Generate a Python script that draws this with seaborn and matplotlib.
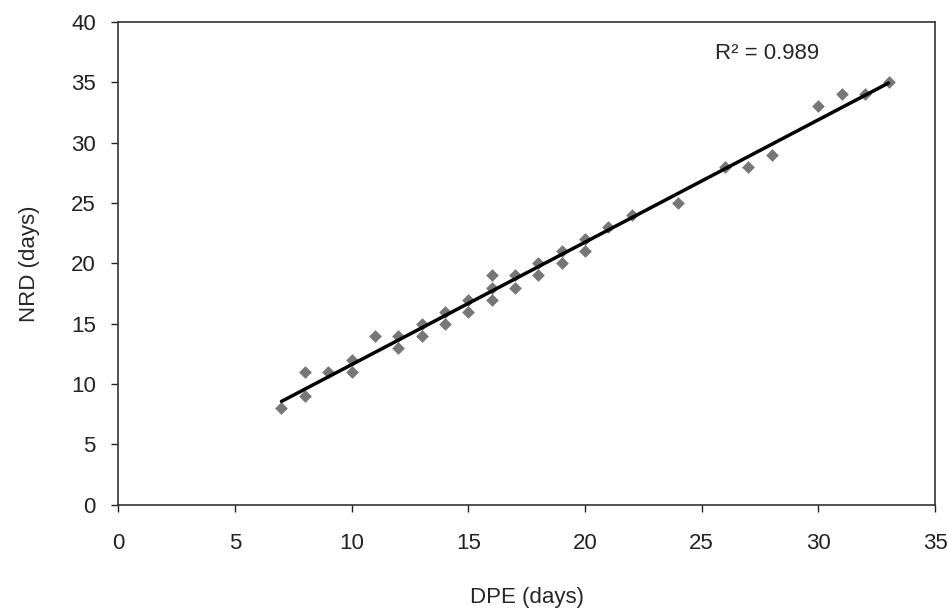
import matplotlib
matplotlib.use("Agg")
import matplotlib.pyplot as plt
import seaborn as sns
import pandas as pd

# days post emergence vs. number of rainy days
dpe = [7, 8, 8, 9, 10, 10, 11, 12, 12, 13, 13, 14, 14, 15, 15, 16, 16, 16,
       17, 17, 18, 18, 19, 19, 20, 20, 21, 22, 24, 26, 27, 28, 30, 31, 32, 33]
nrd = [8, 9, 11, 11, 11, 12, 14, 13, 14, 14, 15, 15, 16, 16, 17, 17, 18, 19,
       18, 19, 19, 20, 20, 21, 21, 22, 23, 24, 25, 28, 28, 29, 33, 34, 34, 35]
r2_label = "R² = 0.989"

df = pd.DataFrame({"DPE": dpe, "NRD": nrd})

sns.set_style("ticks")
plt.rcParams["font.family"] = ["Liberation Sans", "DejaVu Sans"]

fig = plt.figure(figsize=(9.48, 6.09), dpi=100)
ax = fig.add_axes([0.1245, 0.171, 0.862, 0.793])

sns.regplot(data=df, x="DPE", y="NRD", ax=ax, ci=None, marker="D",
            scatter_kws={"color": "#555555", "s": 42, "linewidths": 0},
            line_kws={"color": "black", "linewidth": 2.5})

ax.set_xlim(0, 35)
ax.set_ylim(0, 40)
ax.set_xticks(range(0, 36, 5))
ax.set_yticks(range(0, 41, 5))
ax.tick_params(labelsize=16, colors="#222222", length=5, width=1)
ax.tick_params(axis="x", pad=15)
ax.tick_params(axis="y", pad=11)
for s in ax.spines.values():
    s.set_color("#333333")
    s.set_linewidth(1.2)

ax.set_xlabel("DPE (days)", fontsize=16, labelpad=24)
ax.set_ylabel("NRD (days)", fontsize=16, labelpad=22)
ax.text(25.58, 37.35, r2_label, fontsize=16, va="center")

fig.savefig("out.png", dpi=100)
